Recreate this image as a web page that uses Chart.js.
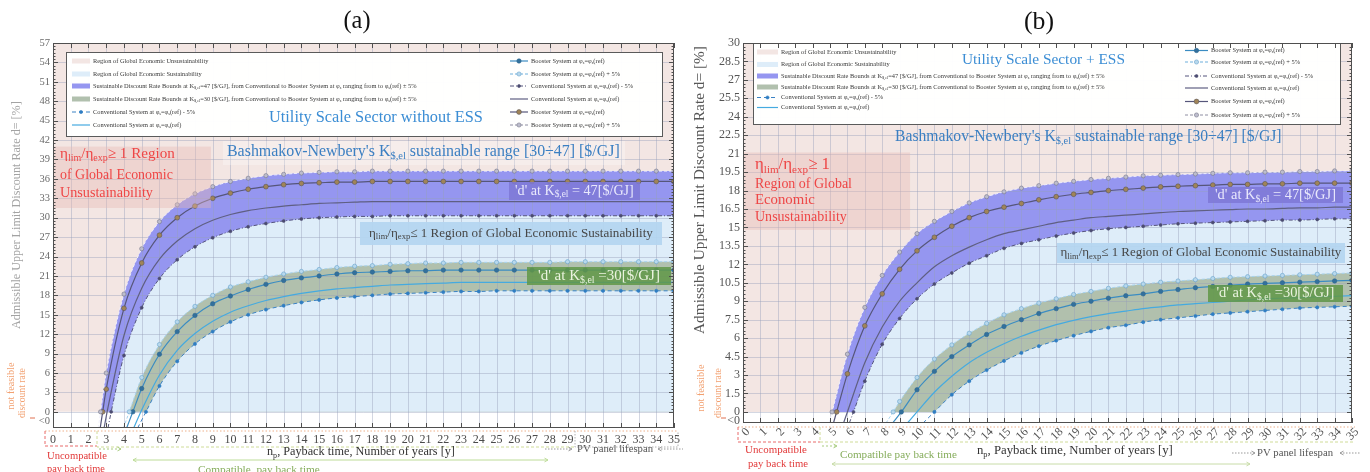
<!DOCTYPE html>
<html>
<head>
<meta charset="utf-8">
<title>Admissible upper limit discount rate vs payback time</title>
<script src="https://cdn.jsdelivr.net/npm/chart.js@4.4.1/dist/chart.umd.min.js"></script>
<style>
  html, body { margin: 0; padding: 0; background: #fff; }
  #wrap { position: relative; width: 1370px; height: 472px; overflow: hidden; }
  #wrap canvas { position: absolute; top: 0; }
</style>
</head>
<body>
<div id="wrap">
  <canvas id="chartA" width="685" height="472" style="left:0"></canvas>
  <canvas id="chartB" width="685" height="472" style="left:685px"></canvas>
</div>
<script>
const SERIF = '"Liberation Serif", "DejaVu Serif", serif';

// x axis: payback time n_p [years]
const xRange = [0, 35];

// ---------- (a) Utility Scale Sector without ESS ----------
const aYRange = [-2.5, 57];
const aYTicks = [-1.5, 0, 3, 6, 9, 12, 15, 18, 21, 24, 27, 30, 33, 36, 39, 42, 45, 48, 51, 54, 57];
// series order: K=47 booster +5%, booster, conventional, conventional -5%, then same four for K=30
const aFirstYear = [3, 3, 4, 4, 5, 5, 5, 6];
const aZeroCross = [2.68, 2.8, 3.05, 3.28, 4.3, 4.5, 4.95, 5.24];
const aAxisHit = [2.55, 2.66, 2.88, 3.1, 3.97, 4.15, 4.55, 4.77];
const aBoosterUp47 = [6.0, 18.2, 25.2, 29.4, 32.0, 33.7, 34.8, 35.6, 36.1, 36.5, 36.7, 36.9, 37.0, 37.1, 37.1,
  37.2, 37.2, 37.2, 37.2, 37.2, 37.2, 37.2, 37.2, 37.2, 37.2, 37.2, 37.2, 37.2, 37.2, 37.2, 37.2, 37.2, 37.2];
const aBooster47 = [3.5, 16.0, 23.0, 27.3, 30.0, 31.8, 33.0, 33.8, 34.4, 34.8, 35.1, 35.3, 35.4, 35.5, 35.5,
  35.6, 35.6, 35.6, 35.6, 35.6, 35.6, 35.6, 35.6, 35.6, 35.6, 35.6, 35.6, 35.6, 35.6, 35.6, 35.6, 35.6, 35.6];
const aConv47 = [11.8, 19.1, 23.6, 26.4, 28.3, 29.6, 30.5, 31.1, 31.5, 31.8, 32.0, 32.2, 32.3, 32.4,
  32.5, 32.5, 32.5, 32.5, 32.5, 32.5, 32.5, 32.5, 32.5, 32.5, 32.5, 32.5, 32.5, 32.5, 32.5, 32.5, 32.5, 32.5];
const aConvLow47 = [8.7, 16.1, 20.6, 23.5, 25.5, 26.9, 27.9, 28.6, 29.1, 29.5, 29.8, 30.0, 30.1, 30.2,
  30.2, 30.3, 30.3, 30.3, 30.3, 30.3, 30.3, 30.3, 30.3, 30.3, 30.3, 30.3, 30.3, 30.3, 30.3, 30.3, 30.3, 30.3];
const aBoosterUp30 = [5.3, 10.4, 13.9, 16.3, 18.0, 19.3, 20.1, 20.8, 21.3, 21.7, 22.0, 22.3, 22.5, 22.6, 22.8, 22.9, 23.0, 23.0,
  23.1, 23.1, 23.1, 23.1, 23.1, 23.1, 23.2, 23.2, 23.2, 23.2, 23.2, 23.2, 23.2];
const aBooster30 = [3.6, 8.9, 12.4, 14.9, 16.7, 17.9, 18.9, 19.7, 20.3, 20.7, 21.0, 21.3, 21.5, 21.6, 21.7, 21.8, 21.8, 21.9,
  21.9, 21.9, 21.9, 21.9, 21.9, 21.9, 21.9, 21.9, 21.9, 21.9, 21.9, 21.9, 21.9];
const aConv30 = [0.3, 5.7, 9.5, 12.1, 14.0, 15.4, 16.4, 17.2, 17.8, 18.3, 18.7, 19.0, 19.2, 19.4, 19.6, 19.7, 19.8, 19.9,
  20.0, 20.0, 20.0, 20.0, 20.0, 20.0, 20.0, 20.0, 20.0, 20.0, 20.0, 20.0, 20.0];
const aConvLow30 = [4.0, 7.8, 10.5, 12.4, 13.9, 15.0, 15.8, 16.4, 16.9, 17.3, 17.6, 17.8, 18.0, 18.2, 18.3, 18.4, 18.5, 18.6, 18.6,
  18.7, 18.7, 18.7, 18.7, 18.7, 18.7, 18.7, 18.7, 18.7, 18.7, 18.7];

// ---------- (b) Utility Scale Sector + ESS ----------
const bYRange = [-0.9, 30];
const bYTicks = [-0.75, 0, 1.5, 3, 4.5, 6, 7.5, 9, 10.5, 12, 13.5, 15, 16.5, 18, 19.5, 21, 22.5, 24, 25.5, 27, 28.5, 30];
const bFirstYear = [6, 6, 7, 7, 9, 10, 11, 12];
const bZeroCross = [5.12, 5.38, 6.0, 6.35, 8.63, 9.1, 10.0, 11.0];
const bAxisHit = [4.95, 5.2, 5.78, 6.11, 8.22, 8.6, 9.45, 10.35];
const bBoosterUp47 = [4.7, 8.5, 11.1, 13.0, 14.5, 15.5, 16.3, 17.0, 17.5, 17.9, 18.2, 18.4, 18.6, 18.75, 18.9,
  19.0, 19.1, 19.2, 19.25, 19.3, 19.35, 19.4, 19.45, 19.45, 19.5, 19.5, 19.55, 19.55, 19.6, 19.6];
const bBooster47 = [3.1, 7.0, 9.6, 11.6, 13.1, 14.2, 15.1, 15.8, 16.3, 16.65, 16.95, 17.25, 17.5, 17.7, 17.85,
  18.0, 18.1, 18.2, 18.3, 18.35, 18.4, 18.45, 18.5, 18.5, 18.55, 18.55, 18.6, 18.6, 18.6, 18.6];
const bConv47 = [4.0, 6.9, 9.0, 10.5, 11.8, 12.7, 13.4, 14.0, 14.5, 14.8, 15.1, 15.4, 15.6, 15.8, 15.9,
  16.0, 16.1, 16.2, 16.3, 16.35, 16.4, 16.45, 16.5, 16.5, 16.55, 16.6, 16.6, 16.65, 16.65];
const bConvLow47 = [2.5, 5.5, 7.6, 9.2, 10.4, 11.3, 12.1, 12.7, 13.3, 13.7, 14.0, 14.3, 14.55, 14.75, 14.9,
  15.0, 15.1, 15.2, 15.3, 15.35, 15.4, 15.45, 15.5, 15.55, 15.6, 15.6, 15.65, 15.7, 15.7];
const bBoosterUp30 = [0.85, 2.8, 4.3, 5.45, 6.4, 7.2, 7.9, 8.4, 8.85, 9.2, 9.55, 9.8, 10.05, 10.25,
  10.4, 10.55, 10.65, 10.75, 10.85, 10.95, 11.0, 11.05, 11.1, 11.15, 11.2, 11.25, 11.3];
const bBooster30 = [1.8, 3.3, 4.5, 5.45, 6.3, 6.95, 7.5, 8.0, 8.4, 8.75, 9.0, 9.25, 9.45,
  9.6, 9.8, 9.95, 10.1, 10.2, 10.3, 10.4, 10.45, 10.5, 10.55, 10.6, 10.65, 10.7];
const bConv30 = [1.6, 2.9, 4.0, 4.85, 5.55, 6.15, 6.65, 7.1, 7.45, 7.75, 8.0, 8.2, 8.4,
  8.55, 8.7, 8.8, 8.9, 9.0, 9.1, 9.2, 9.25, 9.3, 9.35, 9.4, 9.45];
const bConvLow30 = [1.4, 2.5, 3.4, 4.15, 4.8, 5.35, 5.8, 6.2, 6.55, 6.85, 7.05, 7.3,
  7.5, 7.65, 7.8, 7.95, 8.05, 8.15, 8.25, 8.35, 8.45, 8.5, 8.55, 8.6];

// ---------- styles ----------
const SERIES_STYLE = [
  { key: 'up47', label: 'Booster System at φ_{s}=φ_{s}(ref) + 5%', color: 'rgba(240,240,252,0.95)', legendColor: '#8e8ea2', width: 1, dash: [3, 2], r: 2.1, fillC: '#bdbdcd', edge: '#77778a' },
  { key: 'ref47', label: 'Booster System at φ_{s}=φ_{s}(ref)', color: '#56567a', width: 1.2, dash: [], r: 2.4, fillC: '#a08458', edge: '#5a5656' },
  { key: 'conv47', label: 'Conventional System at φ_{s}=φ_{s}(ref)', color: '#5f5f82', width: 1.2, dash: [], r: 0 },
  { key: 'low47', label: 'Conventional System at φ_{s}=φ_{s}(ref) - 5%', color: '#55557c', width: 1, dash: [4, 2, 1, 2], r: 1.5, fillC: '#4b4b70', edge: '#4b4b70' },
  { key: 'up30', label: 'Booster System at φ_{s}=φ_{s}(ref) + 5%', color: '#a6d2ee', legendColor: '#6fb0dc', width: 1, dash: [3, 2], r: 2.1, fillC: '#b8d8ec', edge: '#66a2cc' },
  { key: 'ref30', label: 'Booster System at φ_{s}=φ_{s}(ref)', color: '#3b8cc2', width: 1.2, dash: [], r: 2.2, fillC: '#33709c', edge: '#2b6690' },
  { key: 'conv30', label: 'Conventional System at φ_{s}=φ_{s}(ref)', color: '#45aae0', width: 1.2, dash: [], r: 0 },
  { key: 'low30', label: 'Conventional System at φ_{s}=φ_{s}(ref) - 5%', color: '#3a82c4', width: 1, dash: [4, 3], r: 1.6, fillC: '#2f7dc2', edge: '#2f7dc2' }
];
const REGION_LABEL = {
  unsust: 'Region of Global Economic Unsustainability',
  sust: 'Region of Global Economic Sustainability',
  band47: 'Sustainable Discount Rate Bounds at K_{$,el}=47 [$/GJ], from Conventional to Booster System at φ_{s} ranging from to φ_{s}(ref) ± 5%',
  band30: 'Sustainable Discount Rate Bounds at K_{$,el}=30 [$/GJ], from Conventional to Booster System at φ_{s} ranging from to φ_{s}(ref) ± 5%'
};
const REGION_COLOR = { unsust: '#f3e6e3', sust: '#deedf9', band47: '#9596f0', band30: '#b1c0ad' };
const Y_TITLE = 'Admissible Upper Limit Discount Rate d= [%]';

// ---------- text / drawing helpers ----------
function rich(ctx, str, x, y, size, color, opt) {
  opt = opt || {};
  const fam = SERIF;
  const parts = [];
  const re = /_\{([^}]*)\}/g;
  let last = 0, m;
  while ((m = re.exec(str)) !== null) {
    if (m.index > last) parts.push({ t: str.slice(last, m.index), sub: false });
    parts.push({ t: m[1], sub: true });
    last = re.lastIndex;
  }
  if (last < str.length) parts.push({ t: str.slice(last), sub: false });
  const measure = sz => parts.reduce((w, p) => {
    ctx.font = (p.sub ? sz * 0.66 : sz) + 'px ' + fam;
    return w + ctx.measureText(p.t).width;
  }, 0);
  let sz = size, w = measure(sz);
  if (opt.fit) { sz = size * opt.fit / w; w = opt.fit; }
  let cx = opt.align === 'center' ? x - w / 2 : (opt.align === 'right' ? x - w : x);
  ctx.save();
  ctx.fillStyle = color;
  ctx.textBaseline = 'middle';
  ctx.textAlign = 'left';
  parts.forEach(p => {
    ctx.font = (p.sub ? sz * 0.66 : sz) + 'px ' + fam;
    ctx.fillText(p.t, cx, p.sub ? y + sz * 0.28 : y);
    cx += ctx.measureText(p.t).width;
  });
  ctx.restore();
  return w;
}

function richRot(ctx, str, x, y, size, color, opt) {
  ctx.save();
  ctx.translate(x, y);
  ctx.rotate(-Math.PI / 2);
  rich(ctx, str, 0, 0, size, color, Object.assign({ align: 'center' }, opt || {}));
  ctx.restore();
}

function chevron(ctx, from, to, color) {
  const a = Math.atan2(to[1] - from[1], to[0] - from[0]);
  ctx.save();
  ctx.setLineDash([]);
  ctx.strokeStyle = color;
  ctx.beginPath();
  ctx.moveTo(to[0] - 4 * Math.cos(a - 0.5), to[1] - 4 * Math.sin(a - 0.5));
  ctx.lineTo(to[0], to[1]);
  ctx.lineTo(to[0] - 4 * Math.cos(a + 0.5), to[1] - 4 * Math.sin(a + 0.5));
  ctx.stroke();
  ctx.restore();
}

function poly(ctx, p) {
  ctx.save();
  ctx.strokeStyle = p.color;
  ctx.lineWidth = p.width || 1;
  ctx.setLineDash(p.dash || []);
  ctx.beginPath();
  p.pts.forEach((q, i) => (i ? ctx.lineTo(q[0], q[1]) : ctx.moveTo(q[0], q[1])));
  ctx.stroke();
  const n = p.pts.length;
  (p.heads || []).forEach(h => {
    if (h === 'end') chevron(ctx, p.pts[n - 2], p.pts[n - 1], p.color);
    else chevron(ctx, p.pts[1], p.pts[0], p.color);
  });
  ctx.restore();
}

function drawGrid(chart) {
  const { ctx, chartArea: ca, scales: { x, y } } = chart;
  ctx.save();
  ctx.strokeStyle = 'rgba(150,160,185,0.42)';
  ctx.lineWidth = 1;
  ctx.beginPath();
  x.ticks.forEach(t => {
    const px = Math.round(x.getPixelForValue(t.value)) + 0.5;
    if (px <= ca.left + 1 || px >= ca.right - 1) return;
    ctx.moveTo(px, ca.top); ctx.lineTo(px, ca.bottom);
  });
  y.ticks.forEach(t => {
    if (t.value < 0) return;
    const py = Math.round(y.getPixelForValue(t.value)) + 0.5;
    if (py <= ca.top + 1) return;
    ctx.moveTo(ca.left, py); ctx.lineTo(ca.right, py);
  });
  ctx.stroke();
  ctx.restore();
}

function drawFrame(chart, spec) {
  const { ctx, chartArea: ca, scales: { x, y } } = chart;
  ctx.save();
  ctx.strokeStyle = '#4f4f4f';
  ctx.lineWidth = 1;
  ctx.strokeRect(ca.left + 0.5, ca.top + 0.5, ca.right - ca.left - 1, ca.bottom - ca.top - 1);
  ctx.beginPath();
  x.ticks.forEach(t => {
    const px = Math.round(x.getPixelForValue(t.value)) + 0.5;
    ctx.moveTo(px, ca.bottom); ctx.lineTo(px, ca.bottom - 5);
    ctx.moveTo(px, ca.top); ctx.lineTo(px, ca.top + 5);
  });
  y.ticks.forEach(t => {
    if (t.value < 0) return;
    const py = Math.round(y.getPixelForValue(t.value)) + 0.5;
    ctx.moveTo(ca.left, py); ctx.lineTo(ca.left + 5, py);
    ctx.moveTo(ca.right, py); ctx.lineTo(ca.right - 5, py);
  });
  for (let v = 0; v <= y.max + 1e-6; v += spec.minorY) {
    const py = Math.round(y.getPixelForValue(v)) + 0.5;
    ctx.moveTo(ca.left, py); ctx.lineTo(ca.left + 2.5, py);
    ctx.moveTo(ca.right, py); ctx.lineTo(ca.right - 2.5, py);
  }
  ctx.stroke();
  ctx.restore();
}

function drawLegend(chart, L) {
  const ctx = chart.ctx;
  const byKey = {};
  chart.data.datasets.forEach(d => { byKey[d.key] = d; });
  ctx.save();
  ctx.fillStyle = 'rgba(255,255,255,0.97)';
  ctx.fillRect(L.box[0], L.box[1], L.box[2] - L.box[0], L.box[3] - L.box[1]);
  ctx.strokeStyle = '#5a5a5a';
  ctx.lineWidth = 1;
  ctx.strokeRect(L.box[0] + 0.5, L.box[1] + 0.5, L.box[2] - L.box[0], L.box[3] - L.box[1]);
  [L.left, L.right].forEach(col => {
    col.keys.forEach((k, i) => {
      const ds = byKey[k];
      const yy = col.rows[i];
      if (ds.isFill) {
        ctx.fillStyle = ds.backgroundColor;
        ctx.fillRect(col.sx[0], yy - 2.5, col.sx[1] - col.sx[0], 5);
      } else {
        ctx.strokeStyle = ds.legendColor;
        ctx.lineWidth = ds.borderWidth;
        ctx.setLineDash(ds.borderDash);
        ctx.beginPath(); ctx.moveTo(col.sx[0], yy); ctx.lineTo(col.sx[1], yy); ctx.stroke();
        ctx.setLineDash([]);
        if (ds.markR) {
          ctx.beginPath();
          ctx.arc((col.sx[0] + col.sx[1]) / 2, yy, ds.markR, 0, Math.PI * 2);
          ctx.fillStyle = ds.pointBackgroundColor; ctx.fill();
          ctx.strokeStyle = ds.pointBorderColor; ctx.lineWidth = 0.6; ctx.stroke();
        }
      }
      rich(ctx, ds.label, col.tx, yy, L.size, '#3a3a3a');
    });
  });
  ctx.restore();
}

function overlay(spec) {
  return {
    id: 'overlay',
    beforeDatasetsDraw(chart) { chart.$gridDone = false; },
    beforeDatasetDraw(chart, args) {
      const ds = chart.data.datasets[args.index];
      if (!ds.isFill && !chart.$gridDone) { drawGrid(chart); chart.$gridDone = true; }
    },
    afterDatasetsDraw(chart) {
      const { ctx, scales: { x, y } } = chart;
      const pb = spec.pinkBox;
      const px0 = x.getPixelForValue(pb.x0), px1 = x.getPixelForValue(pb.x1);
      const py0 = y.getPixelForValue(pb.y1), py1 = y.getPixelForValue(pb.y0);
      ctx.save();
      ctx.fillStyle = 'rgba(232,184,178,0.38)';
      ctx.fillRect(px0, py0, px1 - px0, py1 - py0);
      ctx.restore();
      drawLegend(chart, spec.legend);
      spec.boxes.forEach(b => {
        ctx.save();
        ctx.fillStyle = b.fill;
        ctx.fillRect(b.r[0], b.r[1], b.r[2] - b.r[0], b.r[3] - b.r[1]);
        ctx.restore();
        if (b.t) rich(ctx, b.t, (b.r[0] + b.r[2]) / 2, (b.r[1] + b.r[3]) / 2, 13, b.color, { align: 'center', fit: b.fit });
      });
      spec.inTexts.forEach(t => rich(ctx, t.t, t.x, t.y, t.size, t.color, { fit: t.fit }));
    },
    afterDraw(chart) {
      const ctx = chart.ctx;
      drawFrame(chart, spec);
      rich(ctx, spec.title.t, spec.title.x, spec.title.y, 22, '#111', { align: 'center', fit: spec.title.fit });
      const yt = spec.yTitle;
      richRot(ctx, chart.options.scales.y.title.text, yt.x, yt.y, yt.size, yt.color, { fit: yt.fit });
      spec.outLines.forEach(p => poly(ctx, p));
      spec.outTexts.forEach(t => rich(ctx, t.t, t.x, t.y, t.size, t.color, { fit: t.fit }));
      spec.rotTexts.forEach(t => richRot(ctx, t.t, t.x, t.y, t.size, t.color, { fit: t.fit }));
    }
  };
}

// ---------- datasets ----------
function buildDatasets(series, firstYear, zeroCross, axisHit, yRange) {
  const lines = SERIES_STYLE.map((s, i) => {
    const pts = [{ x: axisHit[i], y: yRange[0] }, { x: zeroCross[i], y: 0 }];
    series[i].forEach((v, k) => pts.push({ x: firstYear[i] + k, y: v }));
    return {
      key: s.key, label: s.label, data: pts,
      borderColor: s.color, legendColor: s.legendColor || s.color,
      borderWidth: s.width, borderDash: s.dash,
      markR: s.r, pointStyle: 'circle',
      pointRadius: c => (c.dataIndex === 0 ? 0 : s.r),
      pointBackgroundColor: s.fillC || s.color, pointBorderColor: s.edge || s.color, pointBorderWidth: 0.6,
      fill: false, cubicInterpolationMode: 'monotone'
    };
  });
  const area = (key, colorKey, src) => ({
    key, label: REGION_LABEL[colorKey], isFill: true,
    data: src.map(p => ({ x: p.x, y: p.y })),
    fill: 'origin', backgroundColor: REGION_COLOR[colorKey],
    borderColor: 'rgba(0,0,0,0)', borderWidth: 0, pointRadius: 0,
    cubicInterpolationMode: 'monotone'
  });
  const top = [{ x: xRange[0], y: yRange[1] }, { x: xRange[1], y: yRange[1] }];
  return lines.concat([
    area('sust2', 'sust', lines[7].data.slice(1)),
    area('band30', 'band30', lines[4].data.slice(1)),
    area('sust', 'sust', lines[3].data.slice(1)),
    area('band47', 'band47', lines[0].data.slice(1)),
    area('unsust', 'unsust', top)
  ]);
}

function makeChart(id, datasets, yRange, yTicks, cfg, spec) {
  return new Chart(document.getElementById(id), {
    type: 'line',
    data: { datasets },
    options: {
      responsive: false,
      animation: false,
      events: [],
      layout: { padding: cfg.padding },
      plugins: { legend: { display: false }, tooltip: { enabled: false }, title: { display: false } },
      scales: {
        x: {
          type: 'linear', min: xRange[0], max: xRange[1],
          grid: { display: false, drawTicks: false }, border: { display: false },
          ticks: {
            stepSize: 1, autoSkip: false, padding: cfg.xPad, labelOffset: cfg.xShift,
            minRotation: cfg.xRot, maxRotation: cfg.xRot,
            color: cfg.xColor, font: { family: SERIF, size: 12 }
          },
          afterFit: s => { s.height = cfg.xHeight; }
        },
        y: {
          type: 'linear', min: yRange[0], max: yRange[1],
          afterBuildTicks: s => { s.ticks = yTicks.map(v => ({ value: v })); },
          grid: { display: false, drawTicks: false }, border: { display: false },
          ticks: {
            autoSkip: false, padding: 3, color: cfg.yColor,
            font: { family: SERIF, size: cfg.yFont },
            callback: v => (v < 0 ? '<0' : String(v))
          },
          title: { display: false, text: Y_TITLE },
          afterFit: s => { s.width = cfg.yWidth; }
        }
      }
    },
    plugins: [overlay(spec)]
  });
}

// ---------- annotation layouts ----------
const RED = '#ee4646';
const SPEC_A = {
  title: { t: '(a)', x: 357, y: 22, fit: 27 },
  yTitle: { x: 17, y: 215, size: 12, color: '#a3a3a3', fit: 228 },
  minorY: 0.5,
  pinkBox: { x0: 0, x1: 8.9, y0: 31.5, y1: 41 },
  legend: {
    box: [66, 52, 662, 136], size: 6.4,
    left: { keys: ['unsust', 'sust', 'band47', 'band30', 'low30', 'conv30'], sx: [72, 90], tx: 93, rows: [61, 74, 86, 99, 112, 125] },
    right: { keys: ['ref30', 'up30', 'low47', 'conv47', 'ref47', 'up47'], sx: [510, 528], tx: 531, rows: [61, 74, 86, 99, 112, 125] }
  },
  boxes: [
    { r: [223, 141, 625, 165], fill: 'rgba(255,255,255,0.28)' },
    { r: [509, 182, 640, 200], fill: 'rgba(126,120,214,0.85)', t: "'d' at K_{$,el} = 47[$/GJ]", fit: 119, color: '#e8e8fc' },
    { r: [360, 222, 662, 245], fill: 'rgba(180,213,240,0.93)', t: 'η_{lim}/η_{exp}≤ 1 Region of Global Economic Sustainability', fit: 284, color: '#474747' },
    { r: [527, 267, 671, 285], fill: 'rgba(96,150,70,0.85)', t: "'d' at K_{$,el} =30[$/GJ]", fit: 122, color: '#eaf3df' }
  ],
  inTexts: [
    { t: 'Utility Scale Sector without ESS', x: 269, y: 118, size: 17, fit: 214, color: '#3b8dd4' },
    { t: "Bashmakov-Newbery's K_{$,el} sustainable range [30÷47] [$/GJ]", x: 227, y: 152, size: 16, fit: 393, color: '#3b7fc2' },
    { t: 'η_{lim}/η_{exp}≥ 1 Region', x: 60, y: 154, size: 16, fit: 115, color: RED },
    { t: 'of Global Economic', x: 60, y: 175, size: 16, fit: 113, color: RED },
    { t: 'Unsustainability', x: 60, y: 193, size: 16, fit: 93, color: RED }
  ],
  outLines: [
    { pts: [[45, 431], [678, 431]], color: '#eeb08a', dash: [1.5, 2] },
    { pts: [[45, 431], [45, 446], [97, 446]], color: '#e86a6a', dash: [3, 2] },
    { pts: [[97, 431], [97, 447], [575, 447]], color: '#cfdc98', dash: [3, 2] },
    { pts: [[575, 431], [575, 447], [678, 447], [678, 431]], color: '#b0b0b0', dash: [1.5, 1.5] },
    { pts: [[99, 449], [121, 449]], color: '#a8cc80', dash: [2, 2], heads: ['end'] },
    { pts: [[133, 460], [548, 460]], color: '#bddc98', heads: ['start', 'end'] },
    { pts: [[545, 449], [572, 449]], color: '#999', dash: [1.5, 1.5], heads: ['end'] },
    { pts: [[658, 449], [683, 449]], color: '#999', dash: [1.5, 1.5], heads: ['start'] },
    { pts: [[30, 418], [35, 418]], color: '#e07050' }
  ],
  outTexts: [
    { t: 'Uncompatible', x: 47, y: 456, size: 12, fit: 60, color: '#e23a3a' },
    { t: 'pay back time', x: 47, y: 469, size: 12, fit: 58, color: '#e23a3a' },
    { t: 'n_{p}, Payback time, Number of years [y]', x: 267, y: 452, size: 13, fit: 188, color: '#333' },
    { t: 'Compatible  pay back time', x: 198, y: 470, size: 12, fit: 122, color: '#86ad5c' },
    { t: 'PV panel lifespan', x: 577, y: 449, size: 12, fit: 76, color: '#555' }
  ],
  rotTexts: [
    { t: 'not feasible', x: 11, y: 386, size: 9, fit: 47, color: '#f2a070' },
    { t: 'discount rate', x: 22, y: 393, size: 9, fit: 50, color: '#f2a070' }
  ]
};

const SPEC_B = {
  title: { t: '(b)', x: 354, y: 22, fit: 30 },
  yTitle: { x: 15, y: 190, size: 14, color: '#555', fit: 288 },
  minorY: 0.3,
  pinkBox: { x0: 0, x1: 9.6, y0: 14.8, y1: 21.1 },
  legend: {
    box: [68, 43, 655, 124], size: 6.4,
    left: { keys: ['unsust', 'sust', 'band47', 'band30', 'low30', 'conv30'], sx: [72, 93], tx: 96, rows: [52, 64.5, 76, 87, 97.5, 107.5] },
    right: { keys: ['ref30', 'up30', 'low47', 'conv47', 'ref47', 'up47'], sx: [500, 523], tx: 526, rows: [50.5, 62, 76, 88, 101.5, 115] }
  },
  boxes: [
    { r: [523, 187, 658, 203], fill: 'rgba(126,120,214,0.85)', t: "'d' at K_{$,el} = 47[$/GJ]", fit: 121, color: '#e8e8fc' },
    { r: [372, 243, 660, 263], fill: 'rgba(180,213,240,0.93)', t: 'η_{lim}/η_{exp}≤ 1 Region of Global Economic Sustainability', fit: 281, color: '#474747' },
    { r: [523, 285, 658, 302], fill: 'rgba(96,150,70,0.85)', t: "'d' at K_{$,el} =30[$/GJ]", fit: 118, color: '#eaf3df' }
  ],
  inTexts: [
    { t: 'Utility Scale Sector + ESS', x: 277, y: 60, size: 17, fit: 163, color: '#3b8dd4' },
    { t: "Bashmakov-Newbery's K_{$,el} sustainable range [30÷47] [$/GJ]", x: 210, y: 137, size: 16, fit: 387, color: '#3b7fc2' },
    { t: 'η_{lim}/η_{exp}≥ 1', x: 70, y: 165, size: 16, fit: 75, color: RED },
    { t: 'Region of Global', x: 70, y: 184, size: 16, fit: 97, color: RED },
    { t: 'Economic', x: 70, y: 200, size: 16, fit: 60, color: RED },
    { t: 'Unsustainability', x: 70, y: 217, size: 16, fit: 92, color: RED }
  ],
  outLines: [
    { pts: [[53, 427], [670, 427]], color: '#eeb08a', dash: [1.5, 2] },
    { pts: [[53, 427], [53, 442], [135, 442]], color: '#e86a6a', dash: [3, 2] },
    { pts: [[135, 427], [135, 442], [670, 442]], color: '#cfdc98', dash: [3, 2] },
    { pts: [[137, 446], [152, 446]], color: '#a8cc80', dash: [2, 2], heads: ['end'] },
    { pts: [[147, 464], [565, 464]], color: '#c8dca8', heads: ['start', 'end'] },
    { pts: [[547, 453], [570, 453]], color: '#999', dash: [1.5, 1.5], heads: ['end'] },
    { pts: [[655, 453], [676, 453]], color: '#999', dash: [1.5, 1.5], heads: ['start'] },
    { pts: [[36, 418], [41, 418]], color: '#e07050' }
  ],
  outTexts: [
    { t: 'Uncompatible', x: 60, y: 450, size: 12, fit: 62, color: '#e23a3a' },
    { t: 'pay back time', x: 63, y: 464, size: 12, fit: 60, color: '#e23a3a' },
    { t: 'Compatible pay back time', x: 155, y: 455, size: 12, fit: 117, color: '#86ad5c' },
    { t: 'n_{p}, Payback time, Number of years [y]', x: 292, y: 451, size: 13, fit: 196, color: '#333' },
    { t: 'PV panel lifespan', x: 572, y: 453, size: 12, fit: 76, color: '#555' }
  ],
  rotTexts: [
    { t: 'not feasible', x: 16, y: 388, size: 9.5, fit: 47, color: '#f2a070' },
    { t: 'discount rate', x: 33, y: 393, size: 9.5, fit: 50, color: '#f2a070' }
  ]
};

makeChart('chartA',
  buildDatasets([aBoosterUp47, aBooster47, aConv47, aConvLow47, aBoosterUp30, aBooster30, aConv30, aConvLow30],
    aFirstYear, aZeroCross, aAxisHit, aYRange),
  aYRange, aYTicks,
  { padding: { left: 0, right: 11, top: 43, bottom: 0 }, yWidth: 53, xHeight: 44, xPad: 5, xRot: 0, xShift: 0,
    xColor: '#4a4a4a', yColor: '#6a6a6a', yFont: 10.5 },
  SPEC_A);

makeChart('chartB',
  buildDatasets([bBoosterUp47, bBooster47, bConv47, bConvLow47, bBoosterUp30, bBooster30, bConv30, bConvLow30],
    bFirstYear, bZeroCross, bAxisHit, bYRange),
  bYRange, bYTicks,
  { padding: { left: 0, right: 18, top: 43, bottom: 0 }, yWidth: 58, xHeight: 49, xPad: 2, xRot: 45, xShift: 5,
    xColor: '#555', yColor: '#555', yFont: 12 },
  SPEC_B);
</script>
</body>
</html>
